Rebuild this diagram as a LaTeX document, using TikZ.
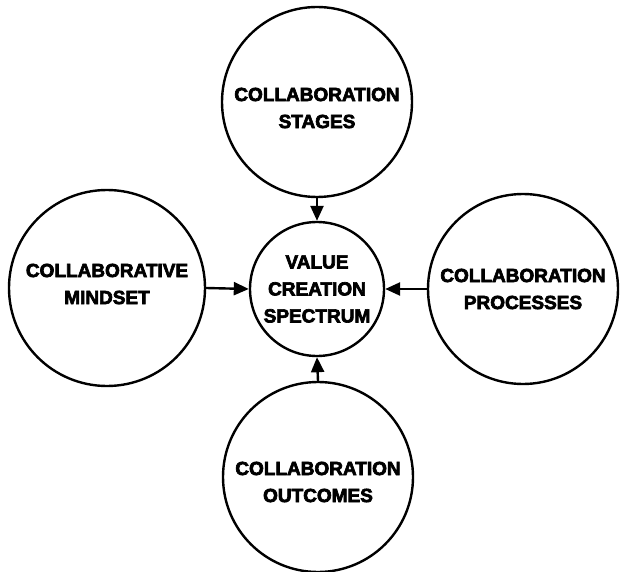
\documentclass[tikz,border=0pt]{standalone}
\usepackage{fontspec}
\usepackage{tikz}
\usepackage{xcolor}
\usetikzlibrary{arrows.meta}
\newfontfamily\heavy{Liberation Sans Bold}[FakeBold=3.5]

\tikzset{
    ring/.style={draw,circle,line width=2.4pt,inner sep=0pt},
    caption/.style={align=center,font=\heavy\fontsize{19}{27}\selectfont},
    feed/.style={line width=2.4pt,-{Triangle[length=15pt,width=13pt]}}
}

\begin{document}
\begin{tikzpicture}[x=1pt,y=-1pt]
\useasboundingbox (0,0) rectangle (621,572);
\path
    (317,289) node [ring,caption,minimum size=134pt] (value) {VALUE\\CREATION\\SPECTRUM};
\path
    [minimum size=190pt]
    (317,102) node [ring,label={[caption,yshift=-6pt]center:COLLABORATION\\STAGES}] (stages) {}
    (107,288) node [ring,minimum size=196pt,label={[caption,yshift=4pt]center:COLLABORATIVE\\MINDSET}] (mindset) {}
    (523,289) node [ring,caption] (processes) {COLLABORATION\\PROCESSES}
    (318,477) node [ring,label={[caption,yshift=-5pt]center:COLLABORATION\\OUTCOMES}] (outcomes) {};
\draw [feed] (stages.south) -- (value.north);
\draw [feed] (mindset.east) -- (value.west);
\draw [feed] (processes.west) -- (value.east);
\draw [feed] (outcomes.north) -- (value.south);
\end{tikzpicture}
\end{document}
